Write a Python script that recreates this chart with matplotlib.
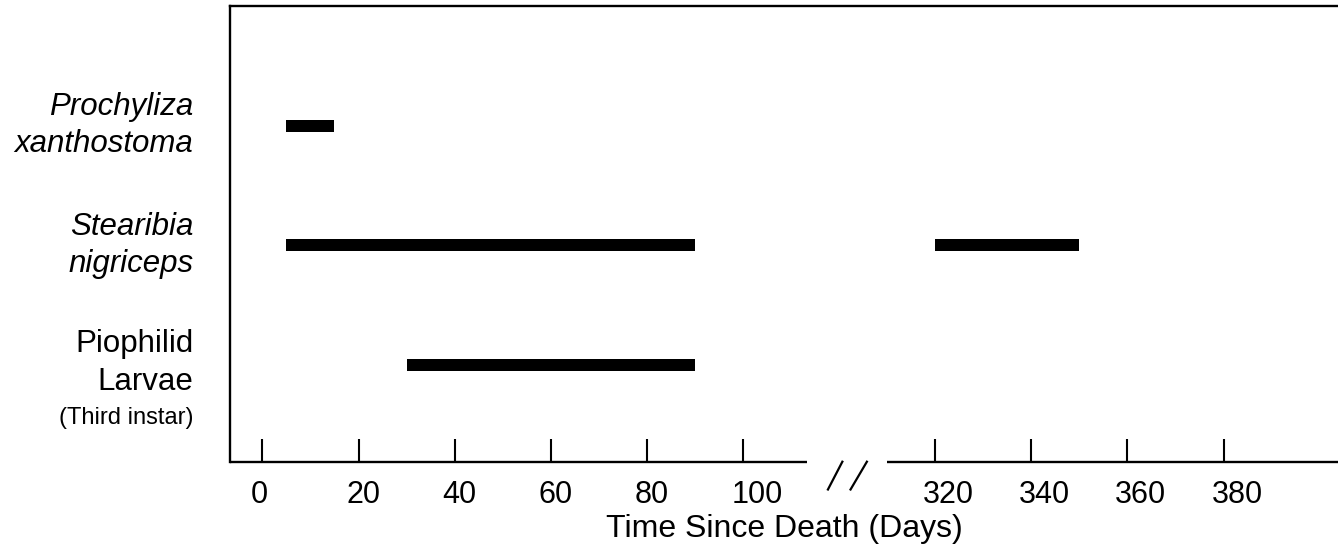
import numpy as np
import matplotlib
matplotlib.use("Agg")
import matplotlib.pyplot as plt
from matplotlib.transforms import ScaledTranslation

plt.rcParams['font.family'] = ['Liberation Sans', 'DejaVu Sans']

# occurrence windows (days since death) for each taxon
species = ["Prochyliza\nxanthostoma", "Stearibia\nnigriceps", "Piophilid\nLarvae"]
species_italic = [True, True, False]
species_note = ["", "", "(Third instar)"]
row_pos = [3, 2, 1]
bar_start = [5, 5, 320, 30]
bar_end = [15, 90, 350, 90]
bar_row = [3, 2, 2, 1]
tick_days = [0, 20, 40, 60, 80, 100, 320, 340, 360, 380]

# broken x axis: the stretch between ~113 and ~310 days is cut out
SHIFT = 180.15


def fwd(x):
    x = np.asarray(x, dtype=float)
    return np.where(x < 200, x, x - SHIFT)


def inv(y):
    y = np.asarray(y, dtype=float)
    return np.where(y < 127.5, y, y + SHIFT)


fig = plt.figure(figsize=(13.38, 5.51), dpi=100)
ax = fig.add_axes([230 / 1338, 1 - 461.7 / 551, 1 - 230 / 1338, 455.7 / 551])
ax.set_xscale('function', functions=(fwd, inv))
ax.set_xlim(-6.72, 403.8)
ax.set_ylim(0.19, 4.0)

ax.barh(bar_row, np.array(bar_end) - np.array(bar_start), left=bar_start,
        height=0.1, color='black')

ax.set_xticks(tick_days)
ax.set_xticklabels([str(t) for t in tick_days])
ax.tick_params(axis='x', direction='in', length=16.3, width=1.5, pad=13,
               labelsize=22, colors='black')
ax.set_yticks([])
# the original sets the numbers flush-left just before each tick
shift_left = ScaledTranslation(-12 / 100, 0, fig.dpi_scale_trans)
for lab in ax.get_xticklabels():
    lab.set_horizontalalignment('left')
    lab.set_transform(lab.get_transform() + shift_left)

for side in ['right', 'bottom']:
    ax.spines[side].set_visible(False)
for side in ['left', 'top']:
    ax.spines[side].set_linewidth(1.7)

# bottom axis drawn in two pieces with the break mark between
xt = ax.get_xaxis_transform()
ax.plot([-6.72, 113.2], [0, 0], color='black', lw=1.7, transform=xt, clip_on=False,
        solid_capstyle='butt')
ax.plot([310.0, 403.8], [0, 0], color='black', lw=1.7, transform=xt, clip_on=False,
        solid_capstyle='butt')
for x0, x1 in [(117.6, 120.6), (122.3, 125.7)]:
    ax.plot([x0, x1], [-0.061, 0.0], color='black', lw=1.6, transform=xt,
            clip_on=False)

ax.set_xlabel("Time Since Death (Days)", fontsize=23, labelpad=3)

yt = ax.get_yaxis_transform()
lx = -0.033
for name, ital, note, y in zip(species, species_italic, species_note, row_pos):
    if note:
        ax.text(lx, y + 0.016, name, transform=yt, ha='right', va='center',
                fontsize=22.5, style='italic' if ital else 'normal', linespacing=1.32)
        ax.text(lx, y - 0.447, note, transform=yt, ha='right', va='center',
                fontsize=17)
    else:
        ax.text(lx, y, name, transform=yt, ha='right', va='center',
                fontsize=22.5, style='italic' if ital else 'normal', linespacing=1.3)

fig.savefig("out.png", dpi=100)
